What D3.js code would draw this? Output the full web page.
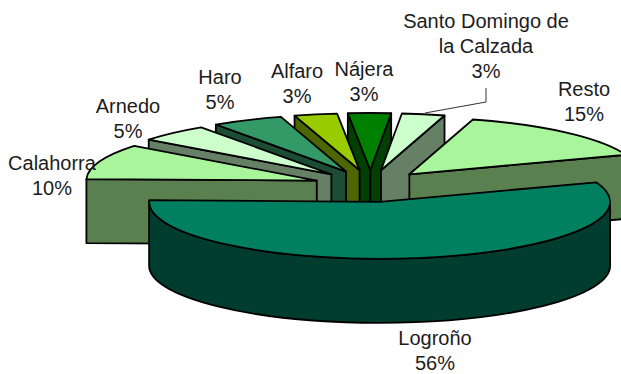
<!DOCTYPE html>
<html>
<head>
<meta charset="utf-8">
<script src="https://cdn.jsdelivr.net/npm/d3@7"></script>
<style>
  html, body { margin: 0; padding: 0; background: #fff; }
  svg { display: block; }
  text { font-family: "Liberation Sans", Arial, sans-serif; font-size: 20px; fill: #1c1c1c; text-anchor: middle; }
</style>
</head>
<body>
<svg class="chart" width="621" height="374"></svg>
<script>
// share of the region, percent, clockwise from the first slice angle
var categories = ["Logroño", "Calahorra", "Arnedo", "Haro", "Alfaro", "Nájera", "Santo Domingo de la Calzada", "Resto"];
var values = [56, 10, 5, 5, 3, 3, 3, 15];
var topColors = ["#008060", "#a8f59c", "#ccffcc", "#339966", "#99cc00", "#008000", "#ccffcc", "#a8f59c"];
var sideColors = ["#003d2e", "#5a8050", "#668066", "#1a4d33", "#4d6600", "#004000", "#668066", "#5a8050"];
var labelLines = [["Logroño"], ["Calahorra"], ["Arnedo"], ["Haro"], ["Alfaro"], ["Nájera"], ["Santo Domingo de", "la Calzada"], ["Resto"]];
var labelX = [435, 52, 128, 220, 297, 364, 486, 584];
var labelY = [345, 170, 113, 84, 78, 76, 28, 96];

var svg = d3.select(".chart");

var cx = 370.5, cy = 186;    // centre of the unexploded pie
var rx = 230.5, ry = 57;     // ellipse of the top face
var depth = 64;
var explodeX = 57, explodeY = 16;
var firstAngle = 70 * Math.PI / 180;
var lineGap = 25;

var pie = d3.pie().sort(null).startAngle(firstAngle).endAngle(firstAngle + 2 * Math.PI);
var slices = pie(values).map(function (d, i) {
    var mid = (d.startAngle + d.endAngle) / 2;
    return {
        i: i, a0: d.startAngle, a1: d.endAngle, mid: mid,
        ox: cx + explodeX * Math.sin(mid),
        oy: cy - explodeY * Math.cos(mid)
    };
});

function rim(s, a, dy) {
    return [s.ox + rx * Math.sin(a), s.oy - ry * Math.cos(a) + (dy || 0)];
}

function arcTo(p, sweep, large) {
    return "A" + rx + "," + ry + " 0 " + (large ? 1 : 0) + "," + sweep + " " + p[0] + "," + p[1];
}

function radialWall(s, a) {
    var p = rim(s, a), q = rim(s, a, depth);
    return "M" + s.ox + "," + s.oy + "L" + p + "L" + q + "L" + s.ox + "," + (s.oy + depth) + "Z";
}

function frontWall(s) {
    var from = Math.max(s.a0, Math.PI / 2), to = Math.min(s.a1, 3 * Math.PI / 2);
    if (from >= to) return null;
    var p = rim(s, from), q = rim(s, to), q2 = rim(s, to, depth), p2 = rim(s, from, depth);
    return "M" + p + arcTo(q, 1, false) + "L" + q2 + arcTo(p2, 0, false) + "Z";
}

function topFace(s) {
    var large = s.a1 - s.a0 > Math.PI;
    return "M" + s.ox + "," + s.oy + "L" + rim(s, s.a0) + arcTo(rim(s, s.a1), 1, large) + "Z";
}

// back slices first, Logroño comes last
var order = slices.slice().sort(function (a, b) { return Math.cos(b.mid) - Math.cos(a.mid); });

var g = svg.selectAll(".slice")
    .data(order)
    .enter().append("g")
    .attr("class", "slice")
    .attr("stroke", "#000")
    .attr("stroke-width", 1.8)
    .attr("stroke-linejoin", "round");

g.each(function (s) {
    var el = d3.select(this);
    var walls = [];
    if (Math.sin(s.a0) < 0) walls.push(radialWall(s, s.a0));
    if (Math.sin(s.a1) > 0) walls.push(radialWall(s, s.a1));
    var front = frontWall(s);
    if (front) walls.push(front);
    walls.forEach(function (w) {
        el.append("path").attr("d", w).attr("fill", sideColors[s.i]);
    });
    el.append("path").attr("d", topFace(s)).attr("fill", topColors[s.i]);
});

// leader line for Santo Domingo
svg.append("path")
    .attr("d", d3.line()([[425, 113], [486, 102], [486, 88]]))
    .attr("fill", "none")
    .attr("stroke", "#333")
    .attr("stroke-width", 1);

var labels = svg.selectAll(".label")
    .data(categories)
    .enter().append("text")
    .attr("class", "label")
    .attr("y", function (d, i) { return labelY[i]; });

labels.each(function (d, i) {
    var t = d3.select(this);
    labelLines[i].concat([values[i] + "%"]).forEach(function (line, k) {
        t.append("tspan")
            .attr("x", labelX[i])
            .attr("y", labelY[i] + k * lineGap)
            .text(line);
    });
});
</script>
</body>
</html>
